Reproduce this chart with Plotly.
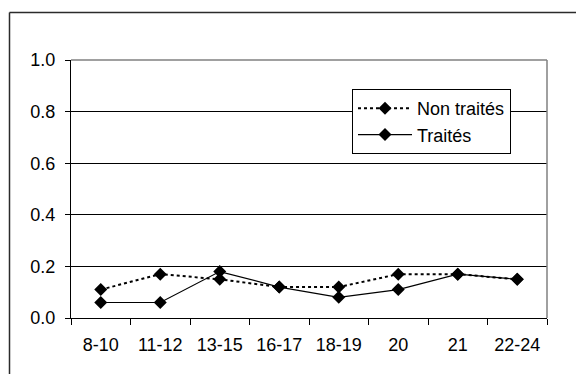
import plotly.graph_objects as go

# Age classes and proportions per group
categories = ["8-10", "11-12", "13-15", "16-17", "18-19", "20", "21", "22-24"]
non_traites = [0.11, 0.17, 0.15, 0.12, 0.12, 0.17, 0.17, 0.15]
traites = [0.06, 0.06, 0.18, 0.12, 0.08, 0.11, 0.17, 0.15]
y_ticks = [0.0, 0.2, 0.4, 0.6, 0.8, 1.0]

FONT = "Liberation Sans, Arial, sans-serif"
FS = 18
W, H = 576, 374
ML, MR, MT, MB = 71, 29, 60, 56
PW, PH = W - ML - MR, H - MT - MB


def px_x(x):
    return (x - ML) / PW


def px_y(y):
    return (H - MB - y) / PH


fig = go.Figure()
fig.add_trace(go.Scatter(
    x=categories, y=non_traites, name="Non traités", mode="lines+markers",
    line=dict(color="black", width=2, dash="dot"),
    marker=dict(symbol="diamond", size=10, color="black"),
    legendgroup="a",
))
fig.add_trace(go.Scatter(
    x=categories, y=traites, name="Traités", mode="lines+markers",
    line=dict(color="black", width=1.2),
    marker=dict(symbol="diamond", size=10, color="black"),
    legendgroup="b",
))

fig.update_layout(
    width=W, height=H,
    margin=dict(l=ML, r=MR, t=MT, b=MB, pad=0),
    paper_bgcolor="white", plot_bgcolor="white",
    font=dict(family=FONT, size=FS, color="black"),
    showlegend=True,
    legend=dict(
        x=px_x(352), y=px_y(89), xanchor="left", yanchor="top",
        bgcolor="white", bordercolor="black", borderwidth=1,
        font=dict(family=FONT, size=FS, color="black"),
        traceorder="grouped", tracegroupgap=0, itemwidth=54,
    ),
    xaxis=dict(
        type="category", range=[-0.5, 7.5], tickson="boundaries",
        ticks="outside", ticklen=6, tickcolor="black", tickwidth=1,
        showline=True, linecolor="black", linewidth=1,
        showgrid=False, zeroline=False, ticklabelstandoff=10,
    ),
    yaxis=dict(
        range=[0, 1], tickvals=y_ticks, tickformat=".1f",
        ticks="outside", ticklen=5, tickcolor="black", tickwidth=1,
        showline=True, linecolor="black", linewidth=1,
        showgrid=True, gridcolor="black", gridwidth=1,
        zeroline=False, ticklabelstandoff=6,
    ),
    shapes=[
        # plot-area border on top and right
        dict(type="line", xref="paper", yref="paper", x0=0, x1=1, y0=1, y1=1,
             line=dict(color="#808080", width=1.5), layer="above"),
        dict(type="line", xref="paper", yref="paper", x0=1, x1=1, y0=0, y1=1,
             line=dict(color="#808080", width=1.5), layer="above"),
        # outer chart frame: top and left edges
        dict(type="line", xref="paper", yref="paper",
             x0=px_x(9.5), x1=px_x(W), y0=px_y(12.5), y1=px_y(12.5),
             line=dict(color="#2b2b2b", width=1.5), layer="above"),
        dict(type="line", xref="paper", yref="paper",
             x0=px_x(9.5), x1=px_x(9.5), y0=px_y(12.5), y1=px_y(H),
             line=dict(color="#2b2b2b", width=1.5), layer="above"),
    ],
)

fig.write_html("out.html")
